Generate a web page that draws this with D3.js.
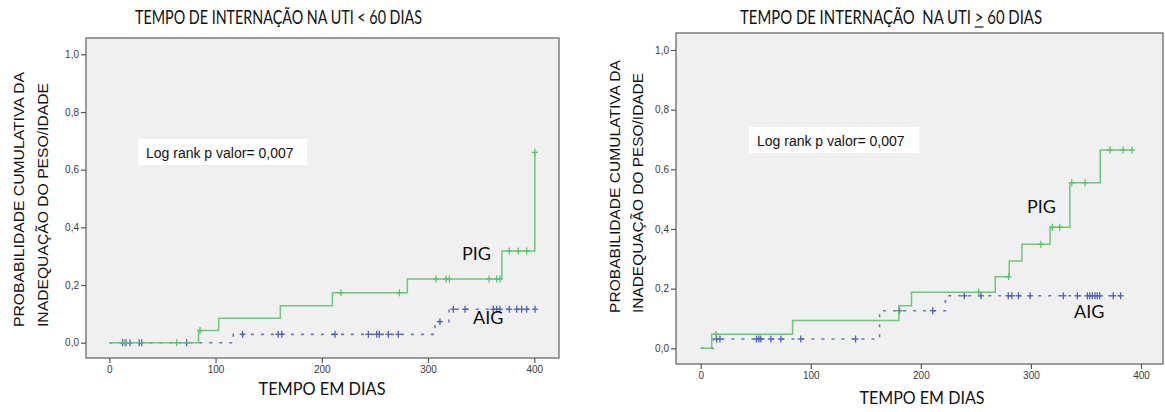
<!DOCTYPE html>
<html>
<head>
<meta charset="utf-8">
<script src="https://cdn.jsdelivr.net/npm/d3@7"></script>
<style>
  html, body { margin: 0; padding: 0; background: #fff; }
  svg { display: block; }
</style>
</head>
<body>
<svg id="chart" width="1165" height="412"></svg>
<script>
// Shared axis ticks
const xTicks = [0, 100, 200, 300, 400];
const yTicks = [0, 0.2, 0.4, 0.6, 0.8, 1.0];

// ICU stay < 60 days — cumulative probability of inadequate weight/age
const pigLtTimes = [0, 84, 103, 161, 210, 280.5, 369.5, 400.5];
const pigLtValues = [0, 0.042, 0.085, 0.128, 0.173, 0.221, 0.318, 0.660];
const pigLtEnd = 400.5;
const pigLtCensored = [14.8, 63.4, 85.4, 218, 273, 307.5, 317, 320, 357.5, 364.6, 367.7, 376.5, 385, 392.8, 400.5];

const aigLtTimes = [0, 116.7, 306.5, 319.7];
const aigLtValues = [0, 0.029, 0.073, 0.116];
const aigLtEnd = 400.7;
const aigLtCensored = [12.6, 15.7, 19.5, 28.2, 30.5, 72.8, 125.5, 159, 162.3, 212.4, 243.8, 251.7, 254.1, 262.6, 272, 311.2, 323.8, 334.8, 361.4, 364.6, 367.7, 376.5, 383.4, 388.1, 392.8, 400.7];

// ICU stay >= 60 days
const pigGeTimes = [0, 10, 83.5, 180, 191.5, 267.6, 280.3, 291.8, 317.4, 335.4, 363];
const pigGeValues = [0, 0.047, 0.093, 0.143, 0.188, 0.240, 0.293, 0.349, 0.406, 0.555, 0.665];
const pigGeEnd = 392;
const pigGeCensored = [13.9, 252.5, 279.7, 309, 319.5, 326.2, 337.1, 349.2, 371.8, 383.8, 392];

const aigGeTimes = [0, 11.4, 162.5, 222.3];
const aigGeValues = [0, 0.031, 0.126, 0.176];
const aigGeEnd = 381.5;
const aigGeCensored = [14.5, 17.5, 50.7, 52.8, 54.6, 63.7, 72.8, 90.9, 140.7, 180.6, 210.8, 239.5, 254.6, 279.4, 282.7, 288.7, 299.3, 329.5, 342.2, 351.3, 353.4, 355.8, 358.2, 360.3, 362.5, 374.8, 381.5];

const pValueText = "Log rank p valor= 0,007";
const yLabelLines = ["PROBABILIDADE CUMULATIVA DA", "INADEQUAÇÃO DO PESO/IDADE"];
const xLabelText = "TEMPO EM DIAS";
const titleLt = "TEMPO DE INTERNAÇÃO NA UTI < 60 DIAS";
const titleGe = "TEMPO DE INTERNAÇÃO  NA UTI > 60 DIAS";

const GREEN = "#5cc46a";
const BLUE = "#5062b8";
const CALIBRI = "Lato, 'Open Sans', sans-serif";
const ARIAL = "'Liberation Sans', Arial, sans-serif";

const svg = d3.select("#chart");

function stepValue(times, values, t) {
  let v = values[0];
  for (let i = 0; i < times.length; i++) if (times[i] <= t) v = values[i];
  return v;
}

function fitText(sel, width) {
  sel.attr("textLength", width).attr("lengthAdjust", "spacingAndGlyphs");
}

function drawPanel(cfg) {
  const g = svg.append("g");
  const x = d3.scaleLinear().domain([0, 400]).range(cfg.xRange);
  const y = d3.scaleLinear().domain([0, 1]).range(cfg.yRange);
  const f = cfg.frame;

  // plot background and frame
  g.append("rect")
    .attr("x", f.x0).attr("y", f.y0)
    .attr("width", f.x1 - f.x0).attr("height", f.y1 - f.y0)
    .attr("fill", "#f0f0f0").attr("stroke", "#6b6b6b").attr("stroke-width", 1.3);

  // axes
  const fmt = d => d3.format(".1f")(d).replace(".", ",");
  const yAxis = g.append("g").attr("transform", `translate(${f.x0},0)`)
    .call(d3.axisLeft(y).tickValues(yTicks).tickFormat(fmt).tickSize(5).tickPadding(2));
  const xAxis = g.append("g").attr("transform", `translate(0,${f.y1})`)
    .call(d3.axisBottom(x).tickValues(xTicks).tickSize(5).tickPadding(3));
  [yAxis, xAxis].forEach(a => {
    a.select(".domain").remove();
    a.selectAll(".tick line").attr("stroke", "#555").attr("stroke-width", 1.2);
    a.selectAll(".tick text").attr("fill", "#3a3a3a")
      .style("font-family", ARIAL).style("font-size", "10px");
  });

  // survival-type step curves
  const line = d3.line().x(d => x(d[0])).y(d => y(d[1])).curve(d3.curveStepAfter);
  cfg.series.forEach(s => {
    const pts = s.times.map((t, i) => [t, s.values[i]]);
    pts.push([s.end, s.values[s.values.length - 1]]);
    g.append("path").datum(pts)
      .attr("d", line)
      .attr("fill", "none")
      .attr("stroke", s.color)
      .attr("stroke-width", s.dashed ? 1.6 : 1.5)
      .attr("stroke-dasharray", s.dashed ? "3,7" : null)
      .attr("opacity", s.dashed ? 0.85 : 0.9);
    const marks = g.append("g").selectAll("g").data(s.censored).join("g")
      .attr("transform", t => `translate(${x(t)},${y(stepValue(s.times, s.values, t))})`)
      .attr("stroke", s.color).attr("stroke-width", 1.3);
    marks.append("line").attr("x1", 0).attr("x2", 0).attr("y1", -3.5).attr("y2", 3.5);
    marks.append("line").attr("x1", -3).attr("x2", 3).attr("y1", 0).attr("y2", 0);
  });

  // log-rank annotation
  const b = cfg.pBox;
  g.append("rect").attr("x", b.x).attr("y", b.y).attr("width", b.w).attr("height", b.h).attr("fill", "#fff");
  g.append("text").attr("x", b.x + 8).attr("y", b.y + 19)
    .style("font-family", ARIAL).style("font-size", "14px").attr("fill", "#111")
    .text(pValueText);

  // group labels
  cfg.groupLabels.forEach(l => {
    g.append("text").attr("x", l.x).attr("y", l.y)
      .style("font-family", CALIBRI).style("font-size", "18px").attr("fill", "#111")
      .text(l.text);
  });

  // axis titles
  cfg.yLabel.forEach((l, i) => {
    g.append("text")
      .attr("transform", `translate(${l.x},${l.y}) rotate(-90)`)
      .style("font-family", ARIAL).style("font-size", "15px").attr("fill", "#111")
      .text(yLabelLines[i])
      .call(fitText, l.w);
  });
  g.append("text").attr("x", cfg.xLabel.x).attr("y", cfg.xLabel.y)
    .attr("text-anchor", "middle")
    .style("font-family", CALIBRI).style("font-size", "17px").attr("fill", "#111")
    .text(xLabelText)
    .call(fitText, cfg.xLabel.w);

  // panel title (one character may be underlined, giving "≥")
  const tt = cfg.title;
  const t = g.append("text").attr("x", tt.x).attr("y", tt.y)
    .style("font-family", CALIBRI).style("font-size", "18.5px").style("white-space", "pre")
    .attr("fill", "#111")
    .text(tt.text);
  const node = t.node();
  const natural = node.getComputedTextLength();
  const k = tt.w / natural;
  let ul = null;
  if (tt.underline != null) {
    ul = [node.getStartPositionOfChar(tt.underline).x, node.getEndPositionOfChar(tt.underline).x]
      .map(v => tt.x + (v - tt.x) * k);
  }
  t.call(fitText, tt.w);
  if (ul) {
    g.append("line")
      .attr("x1", ul[0]).attr("x2", ul[1])
      .attr("y1", tt.y + 3).attr("y2", tt.y + 3)
      .attr("stroke", "#111").attr("stroke-width", 1.2);
  }
}

drawPanel({
  frame: { x0: 86, y0: 38, x1: 559, y1: 358 },
  xRange: [109.3, 534.3],
  yRange: [342.7, 54.3],
  series: [
    { times: aigLtTimes, values: aigLtValues, end: aigLtEnd, censored: aigLtCensored, color: BLUE, dashed: true },
    { times: pigLtTimes, values: pigLtValues, end: pigLtEnd, censored: pigLtCensored, color: GREEN, dashed: false }
  ],
  pBox: { x: 138, y: 139, w: 169, h: 26 },
  groupLabels: [{ text: "PIG", x: 462, y: 260 }, { text: "AIG", x: 473, y: 324 }],
  yLabel: [{ x: 24, y: 327, w: 255 }, { x: 48, y: 327, w: 244 }],
  xLabel: { x: 322, y: 395, w: 127 },
  title: { x: 135, y: 24, w: 287, text: titleLt }
});

drawPanel({
  frame: { x0: 676, y0: 33, x1: 1163, y1: 364 },
  xRange: [700.7, 1141],
  yRange: [348.3, 50],
  series: [
    { times: aigGeTimes, values: aigGeValues, end: aigGeEnd, censored: aigGeCensored, color: BLUE, dashed: true },
    { times: pigGeTimes, values: pigGeValues, end: pigGeEnd, censored: pigGeCensored, color: GREEN, dashed: false }
  ],
  pBox: { x: 749, y: 127, w: 170, h: 26 },
  groupLabels: [{ text: "PIG", x: 1027, y: 213 }, { text: "AIG", x: 1074, y: 318 }],
  yLabel: [{ x: 620, y: 313, w: 253 }, { x: 643, y: 313, w: 240 }],
  xLabel: { x: 922, y: 404, w: 125 },
  title: { x: 740, y: 24, w: 302, text: titleGe, underline: titleGe.indexOf(">") }
});
</script>
</body>
</html>
